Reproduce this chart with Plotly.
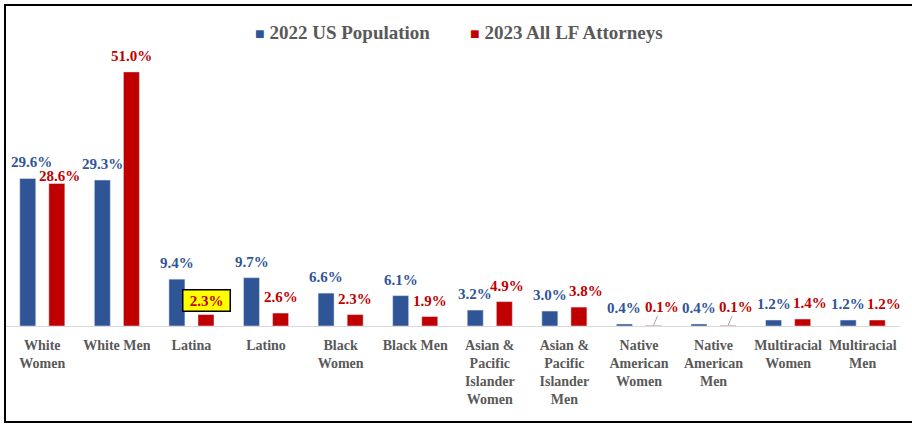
import plotly.graph_objects as go

categories = ["White<br>Women", "White Men", "Latina", "Latino", "Black<br>Women", "Black Men",
              "Asian &<br>Pacific<br>Islander<br>Women", "Asian &<br>Pacific<br>Islander<br>Men",
              "Native<br>American<br>Women", "Native<br>American<br>Men",
              "Multiracial<br>Women", "Multiracial<br>Men"]
us_population = [29.6, 29.3, 9.4, 9.7, 6.6, 6.1, 3.2, 3.0, 0.4, 0.4, 1.2, 1.2]
lf_attorneys = [28.6, 51.0, 2.3, 2.6, 2.3, 1.9, 4.9, 3.8, 0.1, 0.1, 1.4, 1.2]
series_names = ["2022 US Population", "2023 All LF Attorneys"]

BLUE = "#2F5597"
RED = "#C00000"
GREY = "#595959"
FONT = "Liberation Serif"
BARGAP = 0.22
W, H = 912, 424
ML, MR, MT, MB = 5, 12, 47, 98
YMAX = 56
LBL = 15

idx = list(range(len(categories)))
fig = go.Figure()
fig.add_trace(go.Bar(x=idx, y=us_population, name=series_names[0], marker_color=BLUE, hoverinfo="skip"))
fig.add_trace(go.Bar(x=idx, y=lf_attorneys, name=series_names[1], marker_color=RED, hoverinfo="skip"))

ph = H - MT - MB
pw = W - ML - MR
def px_x(p):
    return (p - ML) / pw
def px_y(p):
    return (H - MB - p) / ph

off = (1 - BARGAP) / 4
ann = []
for i in idx:
    xs, ys = (4, 7) if i == 0 else (0, 6)
    ann.append(dict(x=i - off, y=us_population[i], text=f"{us_population[i]:.1f}%",
                    showarrow=False, yanchor="bottom", yshift=ys, xshift=xs,
                    font=dict(family=FONT, size=LBL, color=BLUE, weight="bold")))
    base = dict(x=i + off, y=lf_attorneys[i], text=f"{lf_attorneys[i]:.1f}%",
                font=dict(family=FONT, size=LBL, color=RED, weight="bold"))
    diff = abs(us_population[i] - lf_attorneys[i])
    if categories[i].startswith("Native"):
        base.update(showarrow=True, arrowhead=0, arrowwidth=1, arrowcolor="#A6A6A6",
                    ax=8, ay=-19, standoff=0)
    elif categories[i] == "Latina":
        base.update(showarrow=False, yanchor="bottom", yshift=3, bgcolor="#FFFF00",
                    bordercolor="black", borderwidth=1.5, borderpad=2, width=42)
    elif i == 0:
        base.update(showarrow=False, yanchor="bottom", yshift=-2, xshift=3)
    else:
        nudge = 7 if diff < 1 else (3 if diff < 2 else 0)
        base.update(showarrow=False, yanchor="bottom", yshift=6, xshift=nudge)
    ann.append(base)

# legend drawn as text entries
for name, color, xpix in [(series_names[0], BLUE, 253), (series_names[1], RED, 468)]:
    ann.append(dict(xref="paper", yref="paper", x=px_x(xpix), y=px_y(33), xanchor="left", yanchor="middle",
                    showarrow=False,
                    text=f"<span style='font-size:16px;color:{color}'>■</span> {name}",
                    font=dict(family=FONT, size=19, color=GREY, weight="bold")))

shapes = [
    dict(type="line", xref="paper", yref="paper", x0=px_x(5), x1=px_x(5), y0=px_y(5), y1=px_y(423),
         line=dict(color="black", width=2)),
    dict(type="line", xref="paper", yref="paper", x0=px_x(4), x1=px_x(915), y0=px_y(5), y1=px_y(5),
         line=dict(color="black", width=2)),
    dict(type="line", xref="paper", yref="paper", x0=px_x(4), x1=px_x(915), y0=px_y(422), y1=px_y(422),
         line=dict(color="black", width=2)),
]

fig.update_layout(
    width=W, height=H,
    margin=dict(l=ML, r=MR, t=MT, b=MB, pad=0),
    paper_bgcolor="white", plot_bgcolor="white",
    barmode="group", bargap=BARGAP, bargroupgap=0.45,
    showlegend=False,
    hovermode=False,
    annotations=ann,
    shapes=shapes,
    xaxis=dict(tickmode="array", tickvals=idx, ticktext=categories, range=[-0.5, len(categories) - 0.5],
               showline=True, linecolor="#D9D9D9", linewidth=1, ticks="", showgrid=False, zeroline=False,
               tickangle=0, ticklabelstandoff=6,
               tickfont=dict(family=FONT, size=14, color=GREY, weight="bold")),
    yaxis=dict(range=[0, YMAX], visible=False, showgrid=False, zeroline=False),
)

fig.write_html("out.html", config={"displayModeBar": False},
               post_script="document.body.style.margin='0';document.body.style.overflow='hidden';")
